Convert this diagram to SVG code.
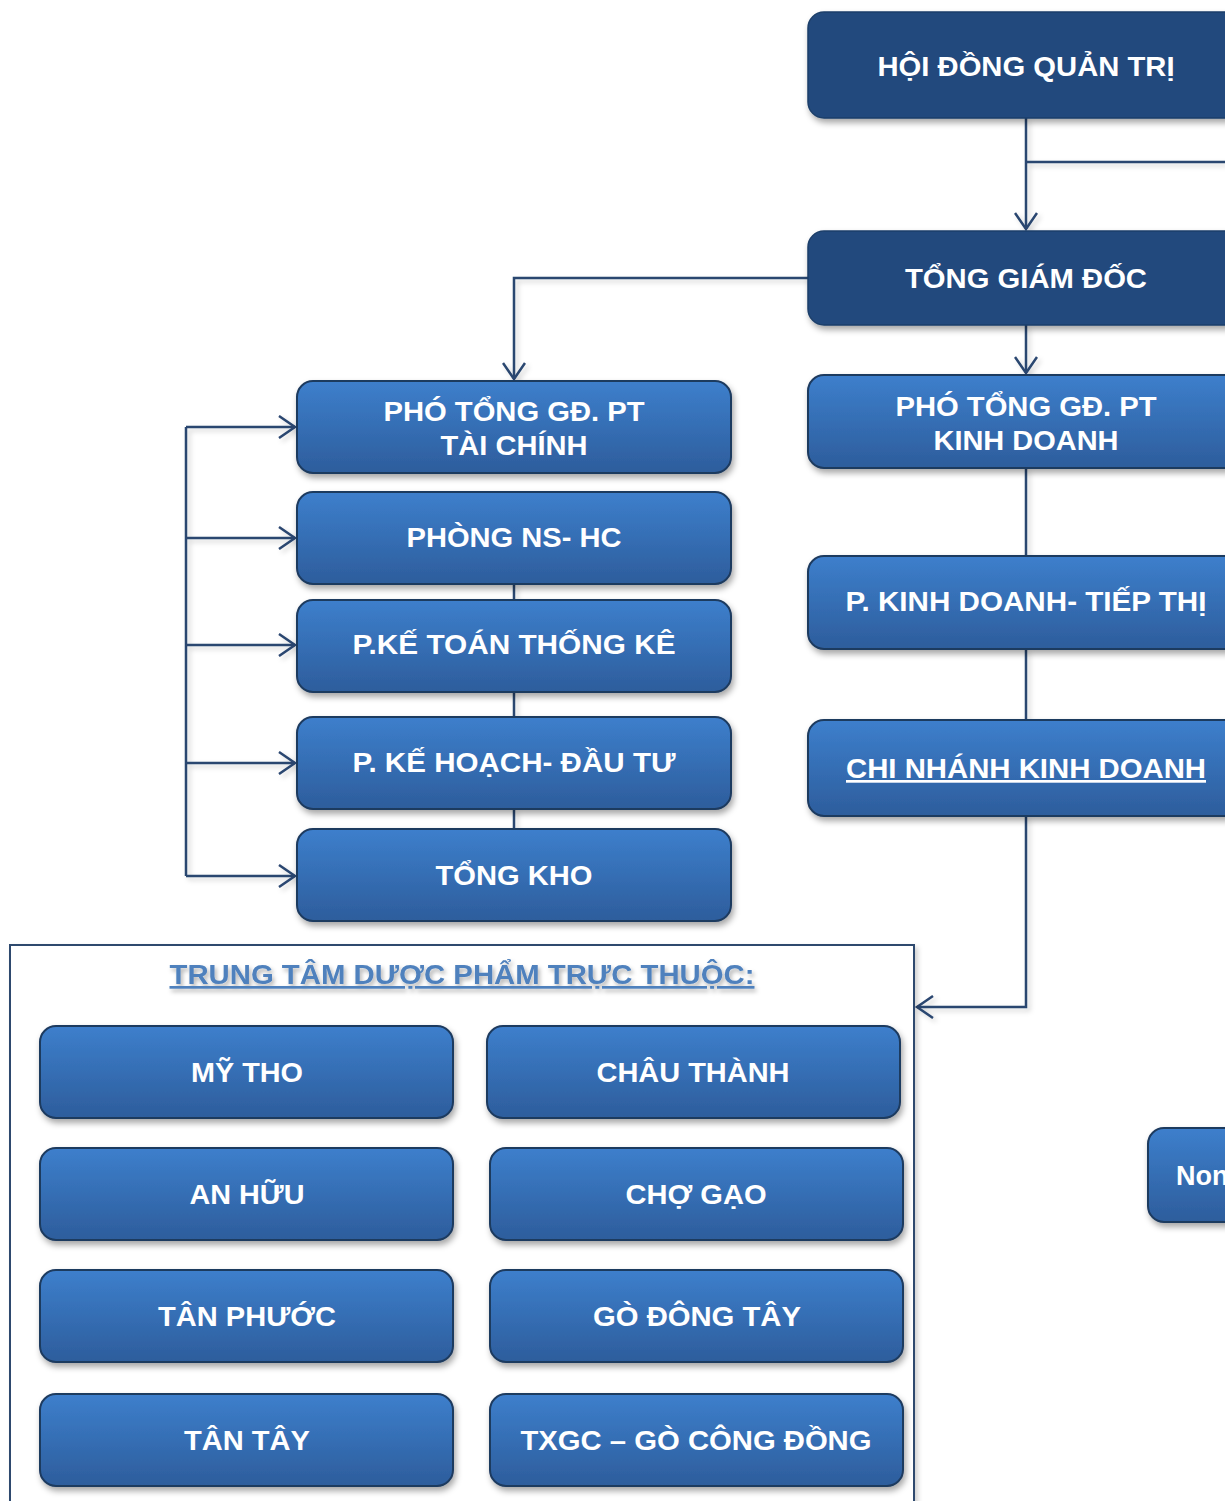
<svg xmlns="http://www.w3.org/2000/svg" width="1225" height="1501" viewBox="0 0 1225 1501">
<style>
.dark{fill:#224A7D;stroke:#1E3F6A;stroke-width:1.5;filter:url(#sh)}
.mid{fill:url(#g);stroke:#1F3A5F;stroke-width:2;filter:url(#sh)}
.t{font-family:"Liberation Sans",Arial,sans-serif;font-weight:bold;font-size:27px;fill:#fff;text-anchor:middle}
.b{font-size:28px}
.c{fill:none;stroke:#2A4670;stroke-width:2.5}
</style>
<defs>
<linearGradient id="g" x1="0" y1="0" x2="0" y2="1">
<stop offset="0" stop-color="#3D7FCC"/>
<stop offset="1" stop-color="#2D5D9C"/>
</linearGradient>
<filter id="sh" x="-10%" y="-20%" width="120%" height="150%">
<feDropShadow dx="2" dy="4" stdDeviation="3" flood-color="#000" flood-opacity="0.35"/>
</filter>
<filter id="lsh" filterUnits="userSpaceOnUse" x="0" y="0" width="1225" height="1501">
<feDropShadow dx="3" dy="3" stdDeviation="2.5" flood-color="#000" flood-opacity="0.18"/>
</filter>
<filter id="tsh" x="-5%" y="-30%" width="110%" height="160%">
<feDropShadow dx="2" dy="3" stdDeviation="2" flood-color="#000" flood-opacity="0.3"/>
</filter>
<marker id="ar" viewBox="0 0 20 24" refX="17" refY="12" markerWidth="20" markerHeight="24" markerUnits="userSpaceOnUse" orient="auto">
<path d="M1,1 L17,12 L1,23" fill="none" stroke="#2A4670" stroke-width="2.5"/>
</marker>
</defs>
<rect width="1225" height="1501" fill="#fff"/>

<g id="connectors" filter="url(#lsh)">
<path class="c" d="M1026,118 V229" marker-end="url(#ar)"/>
<path class="c" d="M1026,162 H1225"/>
<path class="c" d="M808,278 H514 V379" marker-end="url(#ar)"/>
<path class="c" d="M1026,325 V373" marker-end="url(#ar)"/>
<path class="c" d="M1026,468 V556"/>
<path class="c" d="M1026,649 V720"/>
<path class="c" d="M1026,816 V1007 H917" marker-end="url(#ar)"/>
<path class="c" d="M186,427 V876"/>
<path class="c" d="M186,427 H295" marker-end="url(#ar)"/>
<path class="c" d="M186,538 H295" marker-end="url(#ar)"/>
<path class="c" d="M186,645 H295" marker-end="url(#ar)"/>
<path class="c" d="M186,763 H295" marker-end="url(#ar)"/>
<path class="c" d="M186,876 H295" marker-end="url(#ar)"/>
<path class="c" d="M514,584 V600"/>
<path class="c" d="M514,692 V717"/>
<path class="c" d="M514,809 V829"/>
</g>

<g id="hdqt">
<rect class="dark" x="808" y="12" width="436" height="106" rx="16"/>
<text class="t" x="1026" y="76" textLength="297" lengthAdjust="spacingAndGlyphs">HỘI ĐỒNG QUẢN TRỊ</text>
</g>
<g id="tgd">
<rect class="dark" x="808" y="231" width="436" height="94" rx="16"/>
<text class="t" x="1026" y="288" textLength="242" lengthAdjust="spacingAndGlyphs">TỔNG GIÁM ĐỐC</text>
</g>
<g id="ptgd-kd">
<rect class="mid" x="808" y="375" width="436" height="93" rx="16"/>
<text class="t" x="1026" y="416" textLength="261" lengthAdjust="spacingAndGlyphs">PHÓ TỔNG GĐ. PT</text>
<text class="t" x="1026" y="450" textLength="185" lengthAdjust="spacingAndGlyphs">KINH DOANH</text>
</g>
<g id="pkd-tt">
<rect class="mid" x="808" y="556" width="436" height="93" rx="16"/>
<text class="t" x="1026" y="611" textLength="361" lengthAdjust="spacingAndGlyphs">P. KINH DOANH- TIẾP THỊ</text>
</g>
<g id="chi-nhanh">
<rect class="mid" x="808" y="720" width="436" height="96" rx="16"/>
<text class="t" x="1026" y="778" textLength="360" lengthAdjust="spacingAndGlyphs" text-decoration="underline">CHI NHÁNH KINH DOANH</text>
</g>

<g id="ptgd-tc">
<rect class="mid" x="297" y="381" width="434" height="92" rx="16"/>
<text class="t" x="514" y="421" textLength="261" lengthAdjust="spacingAndGlyphs">PHÓ TỔNG GĐ. PT</text>
<text class="t" x="514" y="455" textLength="147" lengthAdjust="spacingAndGlyphs">TÀI CHÍNH</text>
</g>
<g id="ns-hc">
<rect class="mid" x="297" y="492" width="434" height="92" rx="16"/>
<text class="t" x="514" y="547" textLength="215" lengthAdjust="spacingAndGlyphs">PHÒNG NS- HC</text>
</g>
<g id="ke-toan">
<rect class="mid" x="297" y="600" width="434" height="92" rx="16"/>
<text class="t" x="514" y="654" textLength="323" lengthAdjust="spacingAndGlyphs">P.KẾ TOÁN THỐNG KÊ</text>
</g>
<g id="ke-hoach">
<rect class="mid" x="297" y="717" width="434" height="92" rx="16"/>
<text class="t" x="514" y="772" textLength="323" lengthAdjust="spacingAndGlyphs">P. KẾ HOẠCH- ĐẦU TƯ</text>
</g>
<g id="tong-kho">
<rect class="mid" x="297" y="829" width="434" height="92" rx="16"/>
<text class="t" x="514" y="885" textLength="157" lengthAdjust="spacingAndGlyphs">TỔNG KHO</text>
</g>

<g id="trung-tam">
<rect x="10" y="945" width="904" height="570" fill="#fff" stroke="#2E4A6E" stroke-width="2" filter="url(#lsh)"/>
<text x="462" y="984" font-family="Liberation Sans,Arial,sans-serif" font-weight="bold" font-size="27" fill="#4F81BD" text-anchor="middle" textLength="585" lengthAdjust="spacingAndGlyphs" text-decoration="underline" filter="url(#tsh)">TRUNG TÂM DƯỢC PHẨM TRỰC THUỘC:</text>
</g>

<g id="my-tho">
<rect class="mid" x="40" y="1026" width="413" height="92" rx="16"/>
<text class="t b" x="247" y="1082" textLength="112" lengthAdjust="spacingAndGlyphs">MỸ THO</text>
</g>
<g id="chau-thanh">
<rect class="mid" x="487" y="1026" width="413" height="92" rx="16"/>
<text class="t b" x="693" y="1082" textLength="193" lengthAdjust="spacingAndGlyphs">CHÂU THÀNH</text>
</g>
<g id="an-huu">
<rect class="mid" x="40" y="1148" width="413" height="92" rx="16"/>
<text class="t b" x="247" y="1204" textLength="115" lengthAdjust="spacingAndGlyphs">AN HỮU</text>
</g>
<g id="cho-gao">
<rect class="mid" x="490" y="1148" width="413" height="92" rx="16"/>
<text class="t b" x="696" y="1204" textLength="141" lengthAdjust="spacingAndGlyphs">CHỢ GẠO</text>
</g>
<g id="tan-phuoc">
<rect class="mid" x="40" y="1270" width="413" height="92" rx="16"/>
<text class="t b" x="247" y="1326" textLength="178" lengthAdjust="spacingAndGlyphs">TÂN PHƯỚC</text>
</g>
<g id="go-dong-tay">
<rect class="mid" x="490" y="1270" width="413" height="92" rx="16"/>
<text class="t b" x="697" y="1326" textLength="208" lengthAdjust="spacingAndGlyphs">GÒ ĐÔNG TÂY</text>
</g>
<g id="tan-tay">
<rect class="mid" x="40" y="1394" width="413" height="92" rx="16"/>
<text class="t b" x="247" y="1450" textLength="126" lengthAdjust="spacingAndGlyphs">TÂN TÂY</text>
</g>
<g id="txgc">
<rect class="mid" x="490" y="1394" width="413" height="92" rx="16"/>
<text class="t b" x="696" y="1450" textLength="351" lengthAdjust="spacingAndGlyphs">TXGC – GÒ CÔNG ĐỒNG</text>
</g>

<g id="non">
<rect class="mid" x="1148" y="1128" width="200" height="94" rx="16"/>
<text class="t" x="1176" y="1185" style="text-anchor:start" font-size="26">Non</text>
</g>
</svg>
